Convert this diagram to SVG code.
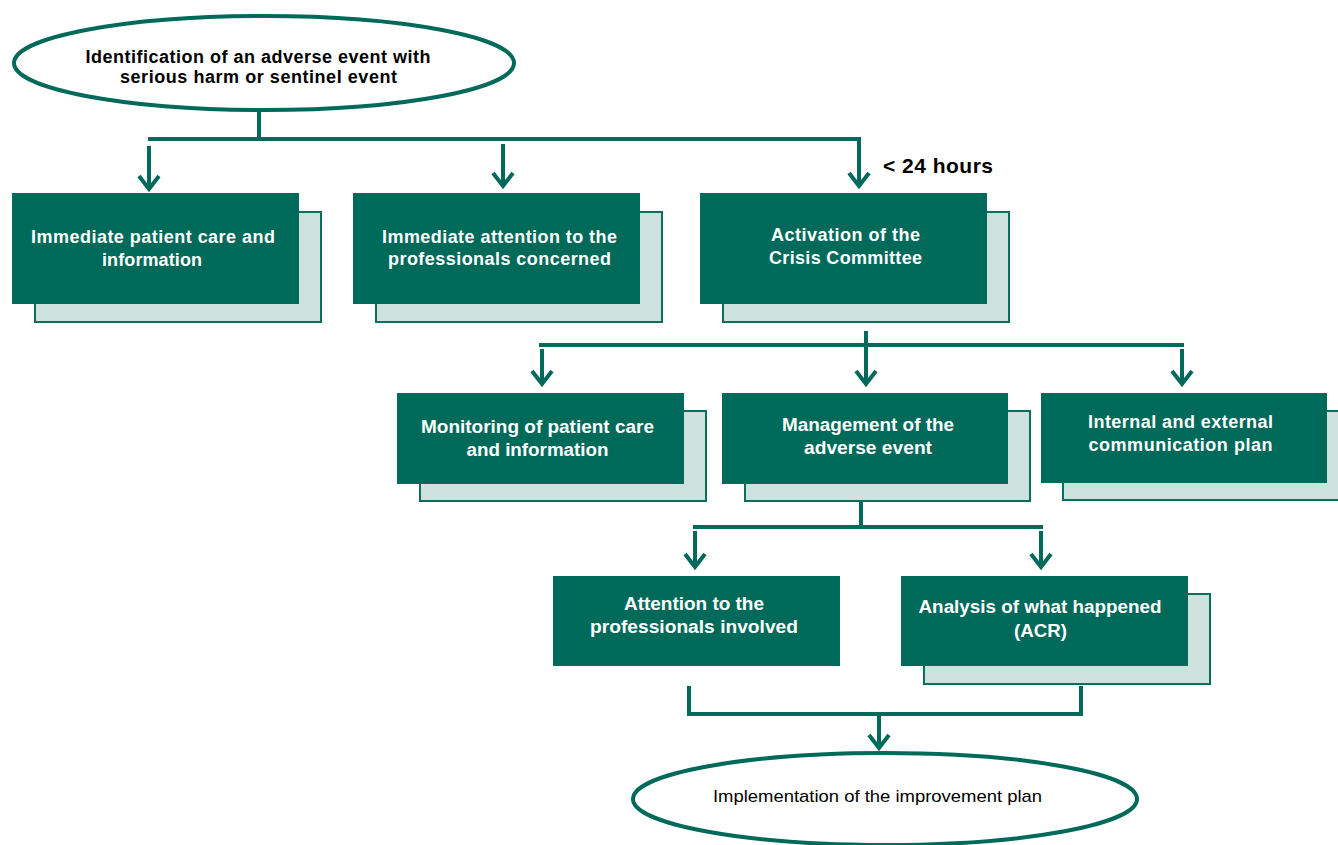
<svg xmlns="http://www.w3.org/2000/svg" width="1338" height="845" viewBox="0 0 1338 845">
<style>
.front{fill:#006A5A;}
.shadow{fill:#CDE1DD;stroke:#0A6E5F;stroke-width:2;}
.oval{fill:#ffffff;stroke:#006A5A;stroke-width:4;}
.line{stroke:#006A5A;stroke-width:4;fill:none;}
.arr{stroke:#006A5A;stroke-width:4;fill:none;marker-end:url(#ah);}
.wt{fill:#ffffff;font-family:"Liberation Sans",Arial,sans-serif;font-weight:bold;font-size:18px;text-anchor:middle;}
.bt{fill:#000000;font-family:"Liberation Sans",Arial,sans-serif;font-weight:bold;font-size:18px;text-anchor:middle;}
.nt{fill:#000000;font-family:"Liberation Sans",Arial,sans-serif;font-size:17px;text-anchor:middle;}
</style>
<defs>
<marker id="ah" markerUnits="userSpaceOnUse" viewBox="0 0 20 26" markerWidth="20" markerHeight="26" refX="16" refY="13" orient="auto">
<path d="M3,3 L16,13 L3,23" fill="none" stroke="#006A5A" stroke-width="4"/>
</marker>
</defs>

<g id="connectors">
<line class="line" x1="259" y1="110" x2="259" y2="139"/>
<line class="line" x1="148" y1="139" x2="861" y2="139"/>
<line class="arr" x1="149" y1="146" x2="149" y2="189"/>
<line class="arr" x1="503" y1="144" x2="503" y2="186"/>
<line class="arr" x1="859" y1="137" x2="859" y2="186"/>

<line class="line" x1="866" y1="331" x2="866" y2="345"/>
<line class="line" x1="539" y1="345" x2="1184" y2="345"/>
<line class="arr" x1="542" y1="349" x2="542" y2="384"/>
<line class="arr" x1="866" y1="345" x2="866" y2="384"/>
<line class="arr" x1="1182" y1="349" x2="1182" y2="384"/>

<line class="line" x1="861" y1="501" x2="861" y2="527"/>
<line class="line" x1="693" y1="527" x2="1043" y2="527"/>
<line class="arr" x1="695" y1="531" x2="695" y2="567"/>
<line class="arr" x1="1041" y1="531" x2="1041" y2="567"/>

<polyline class="line" points="689,686 689,714 1081,714 1081,686"/>
<line class="arr" x1="879" y1="714" x2="879" y2="748"/>
</g>

<g id="start">
<ellipse class="oval" cx="264" cy="63" rx="250" ry="47"/>
<text class="bt" x="258" y="63" textLength="345">Identification  of an adverse event with</text>
<text class="bt" x="258.5" y="83" textLength="277">serious harm or sentinel event</text>
</g>

<text id="label-24h" x="883" y="173" font-family="'Liberation Sans',Arial,sans-serif" font-weight="bold" font-size="21" fill="#000" textLength="110">&lt; 24 hours</text>

<g id="n1">
<rect class="shadow" x="35" y="212" width="286" height="110"/>
<rect class="front" x="12" y="193" width="287" height="111"/>
<text class="wt" x="153" y="243" textLength="244">Immediate  patient care and</text>
<text class="wt" x="152" y="266" textLength="100">information</text>
</g>

<g id="n2">
<rect class="shadow" x="376" y="212" width="286" height="110"/>
<rect class="front" x="353" y="193" width="287" height="111"/>
<text class="wt" x="499.5" y="243" textLength="235">Immediate  attention to the</text>
<text class="wt" x="499.5" y="265" textLength="223">professionals concerned</text>
</g>

<g id="n3">
<rect class="shadow" x="723" y="212" width="286" height="110"/>
<rect class="front" x="700" y="193" width="287" height="111"/>
<text class="wt" x="845.5" y="241" textLength="149">Activation  of the</text>
<text class="wt" x="845.5" y="264" textLength="153">Crisis Committee</text>
</g>

<g id="n4">
<rect class="shadow" x="420" y="411" width="286" height="90"/>
<rect class="front" x="397" y="393" width="287" height="91"/>
<text class="wt" x="537.5" y="433" textLength="233" lengthAdjust="spacingAndGlyphs">Monitoring of patient care</text>
<text class="wt" x="537.5" y="456" textLength="142" lengthAdjust="spacingAndGlyphs">and information</text>
</g>

<g id="n5">
<rect class="shadow" x="745" y="411" width="285" height="90"/>
<rect class="front" x="722" y="393" width="286" height="91"/>
<text class="wt" x="868" y="431" textLength="172" lengthAdjust="spacingAndGlyphs">Management of the</text>
<text class="wt" x="868" y="454" textLength="128" lengthAdjust="spacingAndGlyphs">adverse event</text>
</g>

<g id="n6">
<rect class="shadow" x="1063" y="411" width="280" height="89"/>
<rect class="front" x="1041" y="393" width="286" height="90"/>
<text class="wt" x="1180.5" y="428" textLength="185">Internal and external</text>
<text class="wt" x="1180.5" y="451" textLength="184">communication  plan</text>
</g>

<g id="n7">
<rect class="front" x="553" y="576" width="287" height="90"/>
<text class="wt" x="694" y="610" textLength="140" lengthAdjust="spacingAndGlyphs">Attention to the</text>
<text class="wt" x="694" y="633" textLength="208" lengthAdjust="spacingAndGlyphs">professionals involved</text>
</g>

<g id="n8">
<rect class="shadow" x="924" y="594" width="286" height="90"/>
<rect class="front" x="901" y="576" width="287" height="90"/>
<text class="wt" x="1040" y="613" textLength="243" lengthAdjust="spacingAndGlyphs">Analysis of what happened</text>
<text class="wt" x="1040.5" y="637" textLength="53" lengthAdjust="spacingAndGlyphs">(ACR)</text>
</g>

<g id="end">
<ellipse class="oval" cx="885" cy="799" rx="252" ry="46"/>
<text class="nt" x="877.5" y="802" textLength="329" lengthAdjust="spacingAndGlyphs">Implementation of the improvement plan</text>
</g>
</svg>
